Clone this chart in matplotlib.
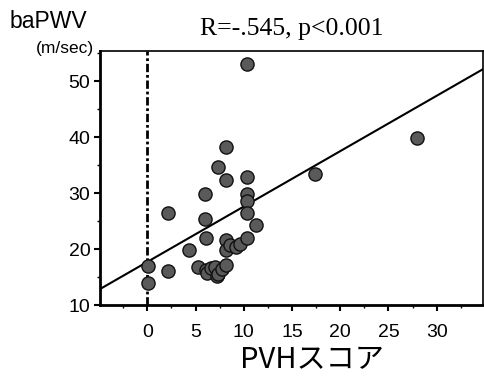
import numpy as np
import matplotlib
matplotlib.use("Agg")
import matplotlib.pyplot as plt
from matplotlib.ticker import MultipleLocator

# PVH score vs baPWV
pvh = [0.1, 0.1, 2.2, 2.2, 4.3, 5.3, 6.0, 6.0, 6.1, 6.1, 6.2, 6.6, 7.0, 7.2,
       7.3, 7.3, 7.7, 8.2, 8.2, 8.2, 8.2, 8.2, 8.6, 9.2, 9.6, 10.3, 10.3,
       10.3, 10.3, 10.3, 10.3, 11.3, 17.4, 28.0]
bapwv = [17.0, 13.9, 26.4, 16.1, 19.8, 16.8, 29.9, 25.3, 21.9, 16.3, 15.7,
         16.6, 16.8, 15.1, 34.6, 15.5, 16.5, 38.2, 32.3, 21.6, 19.8, 17.1,
         20.8, 20.4, 20.9, 53.0, 32.8, 29.8, 28.6, 26.4, 21.9, 24.3, 33.5, 39.9]

fit_intercept = 17.7
fit_slope = 0.99

x_ticks = [0, 5, 10, 15, 20, 25, 30]
y_ticks = [10, 20, 30, 40, 50]

fig = plt.figure(figsize=(4.84, 3.86), dpi=100)
ax = fig.add_axes([100 / 484, 1 - 305 / 386, 383 / 484, 254 / 386])

ax.set_xlim(-4.9, 34.8)
ax.set_ylim(10, 55.4)

xs = np.array(ax.get_xlim())
ax.plot(xs, fit_intercept + fit_slope * xs, color="black", lw=1.5, zorder=2)
ax.axvline(0, color="black", lw=2, ls=(0, (3, 1, 1, 1)), zorder=1)

ax.scatter(pvh, bapwv, s=90, c="#5a5a5a", edgecolors="#111111",
           linewidths=1.0, zorder=3)

ax.set_xticks(x_ticks)
ax.set_yticks(y_ticks)
ax.xaxis.set_minor_locator(MultipleLocator(2.5))
ax.yaxis.set_minor_locator(MultipleLocator(5))
ax.tick_params(which="major", direction="out", length=4, width=1.5,
               labelsize=14, pad=10)
ax.tick_params(axis="y", pad=3)
ax.tick_params(which="minor", direction="out", length=2, width=1)
for lab in ax.get_xticklabels() + ax.get_yticklabels():
    lab.set_family("Liberation Sans")

for side in ["left", "bottom"]:
    ax.spines[side].set_linewidth(2)
for side in ["top", "right"]:
    ax.spines[side].set_linewidth(1.2)

fig.text(10 / 484, 1 - 21 / 386, "baPWV", fontsize=16.5,
         family="Liberation Sans", va="center", ha="left")
fig.text(94 / 484, 1 - 49 / 386, "(m/sec)", fontsize=12.5,
         family="Liberation Sans", va="center", ha="right")
fig.text(292 / 484, 1 - 29 / 386, "R=-.545, p<0.001", fontsize=18.5,
         family="Liberation Serif", va="center", ha="center")
fig.text(312 / 484, 1 - 360 / 386, "PVHスコア", fontsize=21,
         family=["Noto Sans CJK JP", "DejaVu Sans"], va="center", ha="center")

fig.savefig("out.png", dpi=100)
